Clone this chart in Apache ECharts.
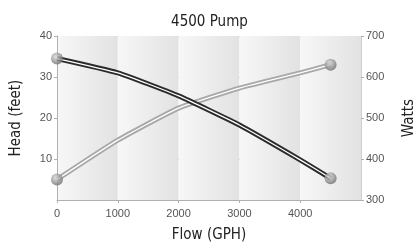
<!DOCTYPE html>
<html>
<head>
<meta charset="utf-8">
<script src="https://cdn.jsdelivr.net/npm/echarts@6/dist/echarts.min.js"></script>
<style>
  html, body { margin: 0; padding: 0; background: #fff; }
  #main { width: 419px; height: 246px; }
</style>
</head>
<body>
<div id="main"></div>
<script>
// values
const flow = [0, 1000, 2000, 3000, 4000, 4500]
const head = [34.5, 31, 25.4, 18.3, 9.8, 5.3]
const watts = [350, 446, 524, 573, 610, 630]

const font = '"DejaVu Sans Condensed", "Liberation Sans Narrow", sans-serif'
const tickFont = '"Liberation Sans", Arial, sans-serif'

const pairs = (ys) => flow.map((x, i) => [x, ys[i]])
const ends = (ys) => [[flow[0], ys[0]], [flow[flow.length - 1], ys[ys.length - 1]]]

const ball = {
    type: 'radial', x: 0.4, y: 0.35, r: 0.65,
    colorStops: [{offset: 0, color: '#d8d8d8'}, {offset: 1, color: '#6e6e6e'}]
}

let myChart = echarts.init(document.getElementById('main'))

myChart.setOption({
    animation: false,
    title: {
        text: '4500 Pump',
        left: 'center',
        top: 10,
        textStyle: {fontFamily: font, fontSize: 15, fontWeight: 'normal', color: '#222'}
    },
    grid: {left: 57, right: 58, top: 36, bottom: 46, outerBoundsMode: 'none', containLabel: false},
    xAxis: {
        type: 'value',
        min: 0,
        max: 5000,
        interval: 1000,
        name: 'Flow (GPH)',
        nameLocation: 'middle',
        nameGap: 28,
        nameTextStyle: {fontFamily: font, fontSize: 15, color: '#222'},
        axisLine: {lineStyle: {color: '#b0b0b0'}},
        axisTick: {show: true, length: 3, lineStyle: {color: '#b0b0b0'}},
        axisLabel: {
            showMaxLabel: false,
            formatter: (v) => String(v),
            fontFamily: tickFont, fontSize: 11, color: '#555', margin: 8
        },
        splitLine: {show: false},
        splitArea: {
            show: true,
            areaStyle: {
                color: [{
                    type: 'linear', x: 0, y: 0, x2: 1, y2: 0,
                    colorStops: [{offset: 0, color: '#f7f7f7'}, {offset: 1, color: '#e2e2e2'}]
                }]
            }
        }
    },
    yAxis: [
        {
            type: 'value',
            min: 0,
            max: 40,
            interval: 10,
            name: 'Head (feet)',
            nameLocation: 'middle',
            nameGap: 33,
            nameTextStyle: {fontFamily: font, fontSize: 15, color: '#222'},
            axisLine: {show: true, lineStyle: {color: '#b0b0b0'}},
            axisTick: {show: true, length: 3, lineStyle: {color: '#b0b0b0'}},
            axisLabel: {showMinLabel: false, fontFamily: tickFont, fontSize: 11, color: '#555', margin: 5},
            splitLine: {lineStyle: {color: '#a0a0a0', width: 1}}
        },
        {
            type: 'value',
            min: 300,
            max: 700,
            interval: 100,
            name: 'Watts',
            nameLocation: 'middle',
            nameGap: 41,
            nameTextStyle: {fontFamily: font, fontSize: 15, color: '#222'},
            axisLine: {show: true, lineStyle: {color: '#d0d0d0'}},
            axisTick: {show: true, length: 3, lineStyle: {color: '#b0b0b0'}},
            axisLabel: {fontFamily: tickFont, fontSize: 11, color: '#555', margin: 5},
            splitLine: {show: false}
        }
    ],
    series: [
        {
            name: 'Watts', type: 'line', yAxisIndex: 1, smooth: 0.15, symbol: 'none',
            data: pairs(watts), lineStyle: {color: '#a8a8a8', width: 5}, z: 2
        },
        {
            type: 'line', yAxisIndex: 1, smooth: 0.15, symbol: 'none',
            data: pairs(watts), lineStyle: {color: '#fff', width: 1.3}, z: 3
        },
        {
            name: 'Head', type: 'line', yAxisIndex: 0, smooth: 0.15, symbol: 'none',
            data: pairs(head), lineStyle: {color: '#2a2a2a', width: 5}, z: 4
        },
        {
            type: 'line', yAxisIndex: 0, smooth: 0.15, symbol: 'none',
            data: pairs(head), lineStyle: {color: '#fff', width: 1.3}, z: 5
        },
        {
            type: 'scatter', yAxisIndex: 0, data: ends(head), symbolSize: 12,
            itemStyle: {color: ball}, z: 6
        },
        {
            type: 'scatter', yAxisIndex: 1, data: ends(watts), symbolSize: 12,
            itemStyle: {color: ball}, z: 6
        }
    ]
})
</script>
</body>
</html>
